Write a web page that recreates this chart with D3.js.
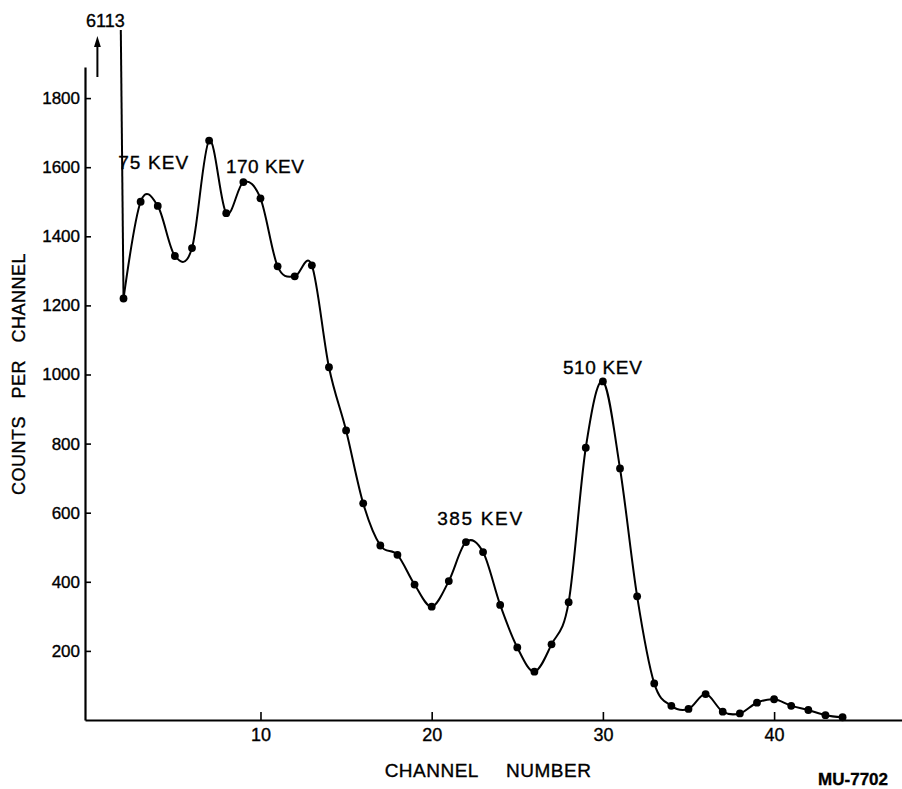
<!DOCTYPE html>
<html>
<head>
<meta charset="utf-8">
<script src="https://cdn.jsdelivr.net/npm/d3@7"></script>
<style>
  html, body { margin: 0; padding: 0; background: #fff; }
  svg { display: block; }
  text { fill: #000; stroke: #000; stroke-width: 0.35px; }
</style>
</head>
<body>
<svg id="chart" width="902" height="789"></svg>
<script>
// Pulse-height spectrum: counts recorded in each analyser channel
const channels = [1, 2, 3, 4, 5, 6, 7, 8, 9, 10, 11, 12, 13, 14, 15, 16, 17, 18, 19, 20, 21, 22,
                  23, 24, 25, 26, 27, 28, 29, 30, 31, 32, 33, 34, 35, 36, 37, 38, 39, 40, 41, 42, 43, 44];
const counts = [6113, 1220, 1500, 1488, 1343, 1366, 1677, 1467, 1557, 1510, 1313, 1284, 1316, 1021,
                838, 627, 505, 478, 392, 328, 402, 515, 486, 333, 210, 140, 219, 341, 788, 980,
                728, 358, 106, 41, 32, 75, 24, 19, 50, 60, 41, 29, 14, 8];

// Axis ticks
const xTicks = [10, 20, 30, 40];
const yTicks = [200, 400, 600, 800, 1000, 1200, 1400, 1600, 1800];

// Photopeak annotations: text, channel of the label centre, count level of its baseline
const peakNames = ["75 KEV", "170 KEV", "385 KEV", "510 KEV"];
const peakChannels = [3.73, 10.26, 22.8, 29.97];
const peakLevels = [1594, 1584, 564, 1001];

const FONT = "'Liberation Sans', Arial, sans-serif";
const svg = d3.select("#chart");

const x = d3.scaleLinear().domain([-0.25, 47.5]).range([85, 902.5]);
const y = d3.scaleLinear().domain([0, 1890]).range([720, 67]);

const pts = channels.map((c, i) => ({ c, v: counts[i] }));

// clip region: the plot area, with room above for the off-scale first channel
svg.append("defs").append("clipPath").attr("id", "plotClip")
  .append("rect")
  .attr("x", x.range()[0]).attr("y", 30)
  .attr("width", x.range()[1] - x.range()[0])
  .attr("height", y(0) - 30);

// axes
const yAxis = d3.axisLeft(y).tickValues(yTicks).tickFormat(d3.format("d"))
  .tickSizeInner(-6).tickSizeOuter(0).tickPadding(5);
const xAxis = d3.axisBottom(x).tickValues(xTicks).tickFormat(d3.format("d"))
  .tickSizeInner(-8).tickSizeOuter(0).tickPadding(8);

const gy = svg.append("g").attr("transform", `translate(${x.range()[0]},0)`).call(yAxis);
const gx = svg.append("g").attr("transform", `translate(0,${y(0)})`).call(xAxis);

[gx, gy].forEach(g => {
  g.attr("font-family", FONT);
  g.select(".domain").attr("stroke", "#000").attr("stroke-width", 2.2);
  g.selectAll(".tick line").attr("stroke", "#000").attr("stroke-width", 1.6);
});
gy.attr("font-size", 17);
gx.attr("font-size", 18);

// the spectrum curve
const plot = svg.append("g").attr("clip-path", "url(#plotClip)");

// first channel is far off scale: a straight run down to channel 2
plot.append("path")
  .datum(pts.slice(0, 2))
  .attr("fill", "none").attr("stroke", "#000").attr("stroke-width", 2)
  .attr("d", d3.line().x(d => x(d.c)).y(d => y(d.v)));

// smooth curve through the remaining channels
plot.append("path")
  .datum(pts.slice(1))
  .attr("fill", "none").attr("stroke", "#000").attr("stroke-width", 2)
  .attr("stroke-linejoin", "round")
  .attr("d", d3.line().curve(d3.curveCatmullRom.alpha(0)).x(d => x(d.c)).y(d => y(d.v)));

// measured points
svg.append("g").selectAll("circle")
  .data(pts.slice(1))
  .join("circle")
  .attr("cx", d => x(d.c)).attr("cy", d => y(d.v))
  .attr("r", 3.9).attr("fill", "#000");

// off-scale marker for channel 1
const first = pts[0];
const ax = x(first.c) - 9;
svg.append("line")
  .attr("x1", ax).attr("x2", ax).attr("y1", 77).attr("y2", 44)
  .attr("stroke", "#000").attr("stroke-width", 2);
svg.append("path")
  .attr("d", `M${ax},36 L${ax - 3.4},47 L${ax + 3.4},47 Z`)
  .attr("fill", "#000");
svg.append("text")
  .attr("x", x(first.c) - 1).attr("y", 26.5)
  .attr("text-anchor", "middle")
  .attr("font-family", FONT).attr("font-size", 18)
  .text(String(first.v));

// peak labels
const peakWidths = [70, 78, 85, 79];
svg.append("g").selectAll("text")
  .data(peakNames)
  .join("text")
  .attr("x", (d, i) => x(peakChannels[i]) - peakWidths[i] / 2)
  .attr("y", (d, i) => y(peakLevels[i]))
  .attr("textLength", (d, i) => peakWidths[i])
  .attr("lengthAdjust", "spacing")
  .attr("font-family", FONT).attr("font-size", 19)
  .text(d => d);

// axis titles
svg.append("text")
  .attr("x", 488).attr("y", 777)
  .attr("text-anchor", "middle")
  .attr("font-family", FONT).attr("font-size", 19)
  .style("letter-spacing", "0.5px").style("word-spacing", "22px")
  .text("CHANNEL NUMBER");

svg.append("text")
  .attr("transform", "translate(25,374) rotate(-90)")
  .attr("text-anchor", "middle")
  .attr("font-family", FONT).attr("font-size", 18)
  .style("letter-spacing", "0.5px").style("word-spacing", "12px")
  .text("COUNTS PER CHANNEL");

// drawing number
svg.append("text")
  .attr("x", 888).attr("y", 785)
  .attr("text-anchor", "end")
  .attr("font-family", FONT).attr("font-size", 17).attr("font-weight", "bold")
  .text("MU-7702");
</script>
</body>
</html>
